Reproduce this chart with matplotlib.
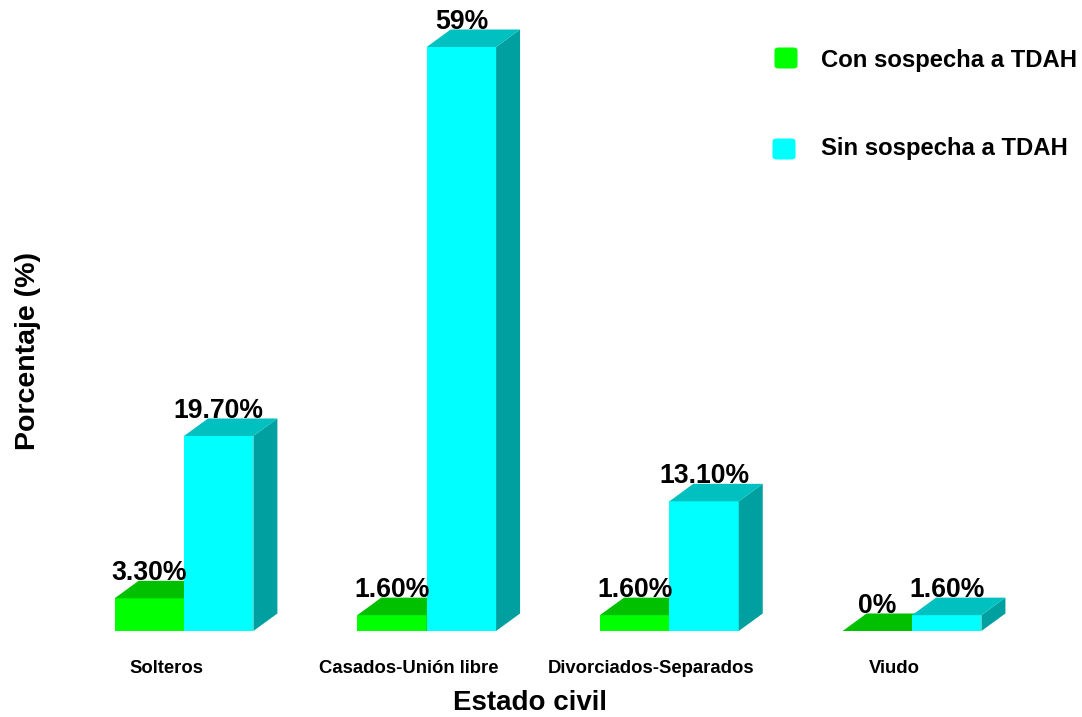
import matplotlib.pyplot as plt
from matplotlib.patches import Polygon, FancyBboxPatch

plt.rcParams['font.family'] = ['Liberation Sans', 'DejaVu Sans']

categorias = ['Solteros', 'Casados-Unión libre', 'Divorciados-Separados', 'Viudo']
con_sospecha = [3.3, 1.6, 1.6, 0]
sin_sospecha = [19.7, 59, 13.1, 1.6]
etiquetas_con = ['3.30%', '1.60%', '1.60%', '0%']
etiquetas_sin = ['19.70%', '59%', '13.10%', '1.60%']
series = ['Con sospecha a TDAH', 'Sin sospecha a TDAH']

# front / top / side colours for each series
col_con = ('#00ff00', '#00c000', '#00a000')
col_sin = ('#00ffff', '#00c0c0', '#00a0a0')

fig = plt.figure(figsize=(10.82, 7.17), dpi=100)
ax = fig.add_axes([0, 0, 1, 1])
ax.set_xlim(-0.7582, 3.7004)
ax.set_ylim(-8.689, 63.75)
ax.axis('off')

w = 0.286     # bar width
dx = 0.0989   # depth offset in x
dy = 1.77     # depth offset in y


def bar3d(x0, h, cols, z):
    front, top, side = cols
    if h > 0:
        ax.bar(x0, h, width=w, align='edge', color=front, edgecolor='none', zorder=z)
        ax.add_patch(Polygon([(x0 + w, 0), (x0 + w + dx, dy), (x0 + w + dx, h + dy), (x0 + w, h)],
                             closed=True, facecolor=side, edgecolor='none', zorder=z))
    ax.add_patch(Polygon([(x0, h), (x0 + dx, h + dy), (x0 + w + dx, h + dy), (x0 + w, h)],
                         closed=True, facecolor=top, edgecolor='none', zorder=z))


for i in range(len(categorias)):
    bar3d(i - w, con_sospecha[i], col_con, 2 + i * 2)
    bar3d(i, sin_sospecha[i], col_sin, 3 + i * 2)
    ax.text(i - w / 2, con_sospecha[i] + dy - 0.55, etiquetas_con[i], ha='center', va='bottom',
            fontsize=19.2, fontweight='bold', zorder=20)
    ax.text(i + w / 2, sin_sospecha[i] + dy - 0.55, etiquetas_sin[i], ha='center', va='bottom',
            fontsize=19.2, fontweight='bold', zorder=20)
    ax.text(i - 0.074, -3.74, categorias[i], ha='center', va='center',
            fontsize=13.3, fontweight='bold')

fig.text(530 / 1082, 1 - 703 / 717, 'Estado civil', ha='center', va='center',
         fontsize=20, fontweight='bold')
fig.text(28 / 1082, 1 - 351 / 717, 'Porcentaje (%)', ha='center', va='center',
         rotation=90, fontsize=20.5, fontweight='bold')

# legend
for (cx, cy, ty), lab, c in zip([(786, 58, 61), (784, 149, 148)], series, [col_con[0], col_sin[0]]):
    s = 23
    fig.patches.append(FancyBboxPatch(((cx - s / 2 + 3) / 1082, 1 - (cy + s / 2 - 3) / 717),
                                      (s - 6) / 1082, (s - 6) / 717,
                                      boxstyle='round,pad=0.0028,rounding_size=0.004',
                                      transform=fig.transFigure, facecolor=c, edgecolor='none'))
    fig.text(821 / 1082, 1 - ty / 717, lab, ha='left', va='center', fontsize=17.2, fontweight='bold')

fig.savefig('out.png', dpi=100)
